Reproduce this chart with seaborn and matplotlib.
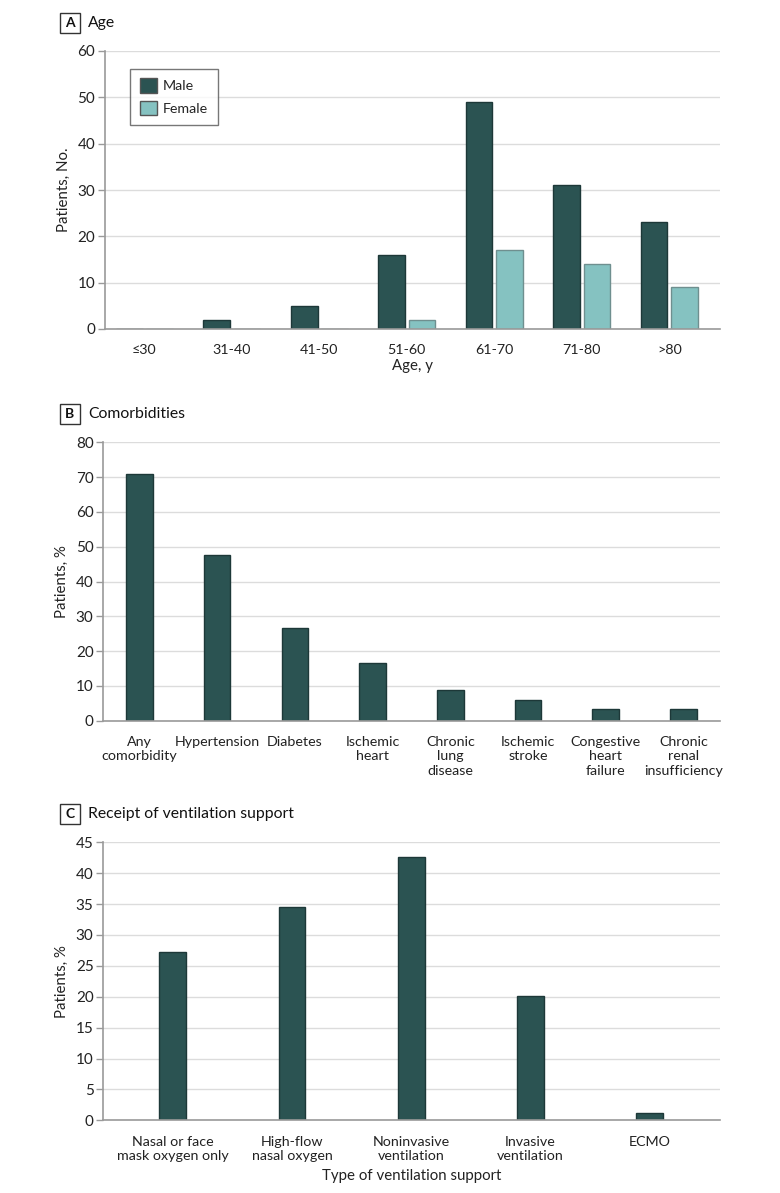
import pandas as pd
import seaborn as sns
import matplotlib.pyplot as plt
from matplotlib.patches import Rectangle

# data
age_groups = ['≤30', '31-40', '41-50', '51-60', '61-70', '71-80', '>80']
male_counts = [0, 2, 5, 16, 49, 31, 23]
female_counts = [0, 0, 0, 2, 17, 14, 9]

comorb_labels = ['Any\ncomorbidity', 'Hypertension', 'Diabetes', 'Ischemic\nheart',
                 'Chronic\nlung\ndisease', 'Ischemic\nstroke', 'Congestive\nheart\nfailure',
                 'Chronic\nrenal\ninsufficiency']
comorb_pct = [71.0, 47.6, 26.5, 16.5, 8.8, 5.9, 3.5, 3.5]

vent_labels = ['Nasal or face\nmask oxygen only', 'High-flow\nnasal oxygen',
               'Noninvasive\nventilation', 'Invasive\nventilation', 'ECMO']
vent_pct = [27.3, 34.5, 42.7, 20.2, 1.2]

dark = '#2b5352'
light = '#85c2c1'

sns.set_theme(style='white')
plt.rcParams['font.family'] = ['Lato', 'DejaVu Sans']
plt.rcParams['font.size'] = 10

W, H = 780, 1193
fig = plt.figure(figsize=(W / 100, H / 100), dpi=100)


def px_axes(left, top, right, bottom):
    return fig.add_axes([left / W, 1 - bottom / H, (right - left) / W, (bottom - top) / H])


def style(ax, ymax, step, ylabel):
    ax.set_ylim(0, ymax)
    ax.set_yticks(range(0, ymax + 1, step))
    ax.yaxis.grid(True, color='#dcdcdc', lw=1)
    ax.set_axisbelow(True)
    for s in ['top', 'right']:
        ax.spines[s].set_visible(False)
    for s in ['left', 'bottom']:
        ax.spines[s].set_color('#9a9a9a')
        ax.spines[s].set_linewidth(1.2)
    ax.tick_params(axis='y', left=True, length=5, width=1, color='#9a9a9a',
                   labelsize=11, pad=2, labelcolor='#222222')
    ax.tick_params(axis='x', bottom=False, labelsize=10.3, pad=5, labelcolor='#222222')
    ax.set_ylabel(ylabel, fontsize=10.8, color='#222222', labelpad=5)
    for lab in ax.get_xticklabels():
        lab.set_linespacing(1.25)


def panel_tag(letter, title, y):
    fig.patches.append(Rectangle((60 / W, 1 - (y + 10) / H), 20 / W, 20 / H,
                                 transform=fig.transFigure, fill=False,
                                 edgecolor='#333333', lw=1))
    fig.text(70 / W, 1 - y / H, letter, ha='center', va='center',
             fontsize=10, fontweight='bold', color='#111111')
    fig.text(88 / W, 1 - y / H, title, ha='left', va='center',
             fontsize=11.3, color='#111111')


# Panel A
df_age = pd.DataFrame({
    'age': age_groups * 2,
    'count': male_counts + female_counts,
    'sex': ['Male'] * len(age_groups) + ['Female'] * len(age_groups),
})
ax1 = px_axes(105, 51, 720, 329)
sns.barplot(data=df_age, x='age', y='count', hue='sex', palette=[dark, light],
            width=0.69, gap=0.12, ax=ax1, legend=True, saturation=1)
for bar in ax1.patches:
    fc = bar.get_facecolor()
    if fc[0] > 0.4:
        bar.set_edgecolor('#6f8f8f')
    else:
        bar.set_edgecolor('#1d3838')
    bar.set_linewidth(1)
ax1.set_xlim(-0.45, 6.58)
style(ax1, 60, 10, 'Patients, No.')
ax1.set_xlabel('Age, y', fontsize=10.8, color='#222222', labelpad=2)
leg = ax1.legend(loc='upper left', bbox_to_anchor=(0.041, 0.936), borderaxespad=0,
                 frameon=True, fancybox=False, edgecolor='#555555', fontsize=10.3,
                 handlelength=1.2, handleheight=1.2, labelspacing=0.55,
                 borderpad=0.65, handletextpad=0.45)
leg.get_frame().set_linewidth(1)
for h in leg.legend_handles:
    h.set_edgecolor('#555555')

# Panel B
ax2 = px_axes(103.3, 442.3, 720, 720.7)
sns.barplot(x=comorb_labels, y=comorb_pct, color=dark, width=0.343, ax=ax2,
            edgecolor='#1d3838', linewidth=1, saturation=1)
ax2.set_xlim(-0.465, 7.47)
style(ax2, 80, 10, 'Patients, %')

# Panel C
ax3 = px_axes(103.3, 842.3, 720, 1120.3)
sns.barplot(x=vent_labels, y=vent_pct, color=dark, width=0.224, ax=ax3,
            edgecolor='#1d3838', linewidth=1, saturation=1)
ax3.set_xlim(-0.5825, 4.5885)
style(ax3, 45, 5, 'Patients, %')
ax3.set_xlabel('Type of ventilation support', fontsize=10.8, color='#222222', labelpad=5)

panel_tag('A', 'Age', 23)
panel_tag('B', 'Comorbidities', 414)
panel_tag('C', 'Receipt of ventilation support', 814)

fig.savefig('out.png', dpi=100)
